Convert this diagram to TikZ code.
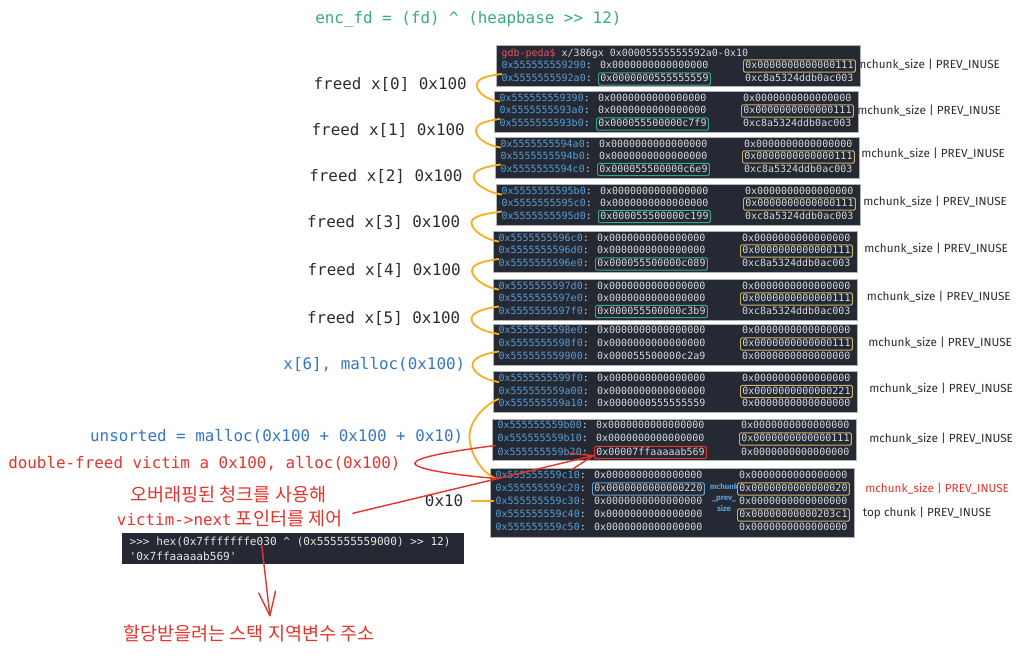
\documentclass[tikz,border=0pt]{standalone}
\usepackage{fontspec}
\setmainfont{DejaVu Sans}
\setsansfont{Fira Sans}
\setmonofont{DejaVu Sans Mono}
\newfontfamily\kofont{Noto Sans CJK KR}
\usepackage{xcolor}
\usepackage{tikz}
\usetikzlibrary{arrows.meta,calc,positioning}
\definecolor{termbg}{RGB}{37,41,51}
\definecolor{termaddr}{RGB}{88,158,214}
\definecolor{termval}{RGB}{214,216,220}
\definecolor{peda}{RGB}{226,88,100}
\definecolor{sizebox}{RGB}{206,176,106}
\definecolor{fdbox}{RGB}{52,168,138}
\definecolor{prevbox}{RGB}{104,160,212}
\definecolor{hotred}{RGB}{228,52,44}
\definecolor{fdorange}{RGB}{246,176,38}
\definecolor{callblue}{RGB}{52,118,196}
\definecolor{encgreen}{RGB}{58,170,128}
\definecolor{labelgray}{RGB}{44,44,44}

% one line of the x/gx dump: name, block left, row y, address, both qwords, frame of each qword
\newcommand{\dumprow}[8]{%
  \node[addr] (#1a) at (#2+3.5,#3) {#4\textcolor{termval}{:}};
  \node[qword,#7] (#1b) at (#2+102,#3) {#5};
  \node[qword,#8] (#1c) at (#2+247,#3) {#6};
}

\begin{document}
\begin{tikzpicture}[x=0.025cm, y=-0.025cm,
  termblk/.style={anchor=north west, fill=termbg, draw=black!30, line width=0.4pt, inner sep=0, minimum width=9.1cm, minimum height=1.03cm},
  addr/.style={anchor=west, inner sep=1.3pt, text height=5pt, text depth=1.1pt, font=\ttfamily\fontsize{7.1}{8}\selectfont, text=termaddr},
  qword/.style={addr, text=termval, rounded corners=1pt},
  sizeframe/.style={draw=sizebox, line width=0.7pt},
  fdframe/.style={draw=fdbox, line width=0.7pt},
  prevframe/.style={draw=prevbox, line width=0.7pt},
  hitframe/.style={draw=hotred, line width=0.8pt},
  lbl/.style={inner sep=0, font=\ttfamily\fontsize{11.3}{13}\selectfont, text=labelgray},
  note/.style={anchor=west, inner sep=0, font=\sffamily\fontsize{8.35}{9}\selectfont, text=labelgray},
  ko/.style={anchor=west, inner sep=0, font=\kofont\fontsize{13.2}{15}\selectfont, text=hotred},
  pytext/.style={anchor=west, inner sep=0, font=\ttfamily\fontsize{7.9}{9}\selectfont, text=white!90!black},
  fdlink/.style={draw=fdorange, line width=1.3pt, line cap=round},
  redlink/.style={draw=hotred, line width=1pt, line cap=round},
  redarrow/.style={redlink, -{Straight Barb[length=17pt, width=12pt, round]}}
]
\path[use as bounding box, fill=white] (0,0) rectangle (1024,659);

\node[lbl, anchor=west, text=encgreen] (encfd) at (315,19) {enc\_fd = (fd) \textasciicircum{} (heapbase >> 12)};

% terminal blocks
\node[termblk, minimum height=1.025cm] (blk1) at (496,45) {};
\node[termblk] (blk2) at (494,91) {};
\node[termblk] (blk3) at (495,137) {};
\node[termblk] (blk4) at (496,184) {};
\node[termblk] (blk5) at (493,231) {};
\node[termblk] (blk6) at (493,279) {};
\node[termblk] (blk7) at (493,324) {};
\node[termblk] (blk8) at (493,371) {};
\node[termblk] (blk9) at (492,419) {};
\node[termblk, minimum height=1.72cm] (blk10) at (490,468) {};

\node[addr, text=termval] (gdbcmd) at (499.5,54) {\textcolor{peda}{gdb-peda\$} x/386gx 0x00005555555592a0-0x10};
\dumprow{c1r1}{496}{66}{0x555555559290}{0x0000000000000000}{0x0000000000000111}{}{sizeframe}
\dumprow{c1r2}{496}{79}{0x5555555592a0}{0x0000000555555559}{0xc8a5324ddb0ac003}{fdframe}{}

\dumprow{c2r1}{494}{98.5}{0x555555559390}{0x0000000000000000}{0x0000000000000000}{}{}
\dumprow{c2r2}{494}{111}{0x5555555593a0}{0x0000000000000000}{0x0000000000000111}{}{sizeframe}
\dumprow{c2r3}{494}{124}{0x5555555593b0}{0x000055500000c7f9}{0xc8a5324ddb0ac003}{fdframe}{}

\dumprow{c3r1}{495}{144.5}{0x5555555594a0}{0x0000000000000000}{0x0000000000000000}{}{}
\dumprow{c3r2}{495}{157}{0x5555555594b0}{0x0000000000000000}{0x0000000000000111}{}{sizeframe}
\dumprow{c3r3}{495}{169.5}{0x5555555594c0}{0x000055500000c6e9}{0xc8a5324ddb0ac003}{fdframe}{}

\dumprow{c4r1}{496}{191.5}{0x5555555595b0}{0x0000000000000000}{0x0000000000000000}{}{}
\dumprow{c4r2}{496}{204}{0x5555555595c0}{0x0000000000000000}{0x0000000000000111}{}{sizeframe}
\dumprow{c4r3}{496}{216.5}{0x5555555595d0}{0x000055500000c199}{0xc8a5324ddb0ac003}{fdframe}{}

\dumprow{c5r1}{493}{238.5}{0x5555555596c0}{0x0000000000000000}{0x0000000000000000}{}{}
\dumprow{c5r2}{493}{251}{0x5555555596d0}{0x0000000000000000}{0x0000000000000111}{}{sizeframe}
\dumprow{c5r3}{493}{264}{0x5555555596e0}{0x000055500000c089}{0xc8a5324ddb0ac003}{fdframe}{}

\dumprow{c6r1}{493}{286.5}{0x5555555597d0}{0x0000000000000000}{0x0000000000000000}{}{}
\dumprow{c6r2}{493}{299}{0x5555555597e0}{0x0000000000000000}{0x0000000000000111}{}{sizeframe}
\dumprow{c6r3}{493}{311.5}{0x5555555597f0}{0x000055500000c3b9}{0xc8a5324ddb0ac003}{fdframe}{}

\dumprow{c7r1}{493}{331}{0x5555555598e0}{0x0000000000000000}{0x0000000000000000}{}{}
\dumprow{c7r2}{493}{344}{0x5555555598f0}{0x0000000000000000}{0x0000000000000111}{}{sizeframe}
\dumprow{c7r3}{493}{356.5}{0x555555559900}{0x000055500000c2a9}{0x0000000000000000}{}{}

\dumprow{c8r1}{493}{379}{0x5555555599f0}{0x0000000000000000}{0x0000000000000000}{}{}
\dumprow{c8r2}{493}{391.5}{0x555555559a00}{0x0000000000000000}{0x0000000000000221}{}{sizeframe}
\dumprow{c8r3}{493}{404}{0x555555559a10}{0x0000000555555559}{0x0000000000000000}{}{}

\dumprow{c9r1}{492}{426}{0x555555559b00}{0x0000000000000000}{0x0000000000000000}{}{}
\dumprow{c9r2}{492}{439}{0x555555559b10}{0x0000000000000000}{0x0000000000000111}{}{sizeframe}
\dumprow{c9r3}{492}{452.5}{0x555555559b20}{0x00007ffaaaaab569}{0x0000000000000000}{hitframe}{}

\dumprow{c10r1}{490}{475.5}{0x555555559c10}{0x0000000000000000}{0x0000000000000000}{}{}
\dumprow{c10r2}{490}{489}{0x555555559c20}{0x0000000000000220}{0x0000000000000020}{prevframe}{sizeframe}
\dumprow{c10r3}{490}{501.5}{0x555555559c30}{0x0000000000000000}{0x0000000000000000}{}{}
\dumprow{c10r4}{490}{515}{0x555555559c40}{0x0000000000000000}{0x00000000000203c1}{}{sizeframe}
\dumprow{c10r5}{490}{528}{0x555555559c50}{0x0000000000000000}{0x0000000000000000}{}{}
\node[align=center, inner sep=0, font=\sffamily\bfseries\fontsize{5.6}{7.8}\selectfont, text=termaddr] (prevnote) at (724,497.5) {mchunk\\\_prev\_\\size};

% field notes on the right
\node[note] (sz1) at (856,64.3) {mchunk\_size | PREV\_INUSE};
\node[note] (sz2) at (857,110.7) {mchunk\_size | PREV\_INUSE};
\node[note] (sz3) at (861,154) {mchunk\_size | PREV\_INUSE};
\node[note] (sz4) at (863,201.7) {mchunk\_size | PREV\_INUSE};
\node[note] (sz5) at (864,249) {mchunk\_size | PREV\_INUSE};
\node[note] (sz6) at (866.7,296.7) {mchunk\_size | PREV\_INUSE};
\node[note] (sz7) at (868,342.3) {mchunk\_size | PREV\_INUSE};
\node[note] (sz8) at (869,389) {mchunk\_size | PREV\_INUSE};
\node[note] (sz9) at (869,438.3) {mchunk\_size | PREV\_INUSE};
\node[note, text=hotred] (sz10) at (865,488.3) {mchunk\_size | PREV\_INUSE};
\node[note] (topc) at (862.7,513.3) {top chunk | PREV\_INUSE};

% chunk labels on the left
\node[lbl, anchor=east] (free0) at (467,85) {freed x[0] 0x100};
\node[lbl, anchor=east] (free1) at (465,130.7) {freed x[1] 0x100};
\node[lbl, anchor=east] (free2) at (462.7,176.7) {freed x[2] 0x100};
\node[lbl, anchor=east] (free3) at (460.5,222.7) {freed x[3] 0x100};
\node[lbl, anchor=east] (free4) at (461,270.7) {freed x[4] 0x100};
\node[lbl, anchor=east] (free5) at (460.5,319) {freed x[5] 0x100};
\node[lbl, anchor=east, text=callblue] (alloc6) at (465.5,365) {x[6], malloc(0x100)};
\node[lbl, anchor=east, text=callblue] (unsorted) at (463.5,436.7) {unsorted = malloc(0x100 + 0x100 + 0x10)};
\node[lbl, anchor=west, text=hotred] (victim) at (8,463.3) {double-freed victim a 0x100, alloc(0x100)};
\node[lbl, anchor=east] (gap) at (463.5,500.7) {0x10};
\node[ko] (overlap) at (130,495) {오버래핑된 청크를 사용해};
\node[ko] (nextctl) at (116.7,518.3) {{\ttfamily\fontsize{11.3}{13}\selectfont victim->next} 포인터를 제어};

% python check
\node[anchor=north west, fill=termbg, inner sep=0, minimum width=8.54cm, minimum height=0.775cm] (pybox) at (121.7,532.3) {};
\node[pytext] (pyin) at ($(pybox.north west)+(7.6,9.4)$) {>>> hex(0x7fffffffe030 \textasciicircum{} (0x555555559000) >> 12)};
\node[pytext] (pyout) at ($(pybox.north west)+(7.6,24.4)$) {'0x7ffaaaaab569'};
\node[ko] (stackvar) at (123,633.3) {할당받을려는 스택 지역변수 주소};

% chunk extents
\draw[fdlink] ($(c1r2a.west)+(2,-5)$) .. controls +(-14,2) and +(0,-7) .. ($(free0.east)+(10,0)$) .. controls +(0,7) and +(-14,-2) .. ($(c2r1a.west)+(2,3)$);
\draw[fdlink] ($(c2r3a.west)+(2,-5)$) .. controls +(-14,2) and +(0,-7) .. ($(free1.east)+(11,0)$) .. controls +(0,7) and +(-14,-2) .. ($(c3r1a.west)+(2,3)$);
\draw[fdlink] ($(c3r3a.west)+(2,-5)$) .. controls +(-14,2) and +(0,-7) .. ($(free2.east)+(11,0)$) .. controls +(0,7) and +(-14,-2) .. ($(c4r1a.west)+(2,3)$);
\draw[fdlink] ($(c4r3a.west)+(2,-5)$) .. controls +(-14,2) and +(0,-7) .. ($(free3.east)+(11,0)$) .. controls +(0,7) and +(-14,-2) .. ($(c5r1a.west)+(2,3)$);
\draw[fdlink] ($(c5r3a.west)+(2,-5)$) .. controls +(-14,2) and +(0,-7) .. ($(free4.east)+(11,0)$) .. controls +(0,7) and +(-14,-2) .. ($(c6r1a.west)+(2,3)$);
\draw[fdlink] ($(c6r3a.west)+(2,-5)$) .. controls +(-14,2) and +(0,-7) .. ($(free5.east)+(11,0)$) .. controls +(0,7) and +(-14,-2) .. ($(c7r1a.west)+(2,3)$);
\draw[fdlink] ($(c7r3a.west)+(2,-5)$) .. controls +(-14,2) and +(0,-7) .. ($(alloc6.east)+(7,0)$) .. controls +(0,7) and +(-14,-2) .. ($(c8r1a.west)+(2,3)$);
\draw[fdlink] ($(c8r3a.west)+(2,-5)$) .. controls +(-14,6) and +(0,-16) .. ($(unsorted.east)+(6,0)$) .. controls +(0,16) and +(-14,-6) .. ($(c10r1a.west)+(2,3)$);
\draw[fdlink] ($(gap.east)+(8,0)$) -- (gap.east -| c10r3a.west);

% overlapping victim
\draw[redlink] ($(c9r3a.west)+(0,-7)$) .. controls +(-40,5) and +(0,-6) .. ($(victim.east)+(14,0)$) .. controls +(0,6) and +(-40,-3) .. ($(c10r1a.west)+(4,3)$);
\draw[redarrow] ($(nextctl.east)+(10,-5)$) -- ($(c9r3b.west)+(0,3)$);
\coordinate (xorsrc) at ($(pybox.north west)+(140,12.7)$);
\draw[redarrow] (xorsrc) -- ($(stackvar.north west)+(147,-8)$);
\end{tikzpicture}
\end{document}
